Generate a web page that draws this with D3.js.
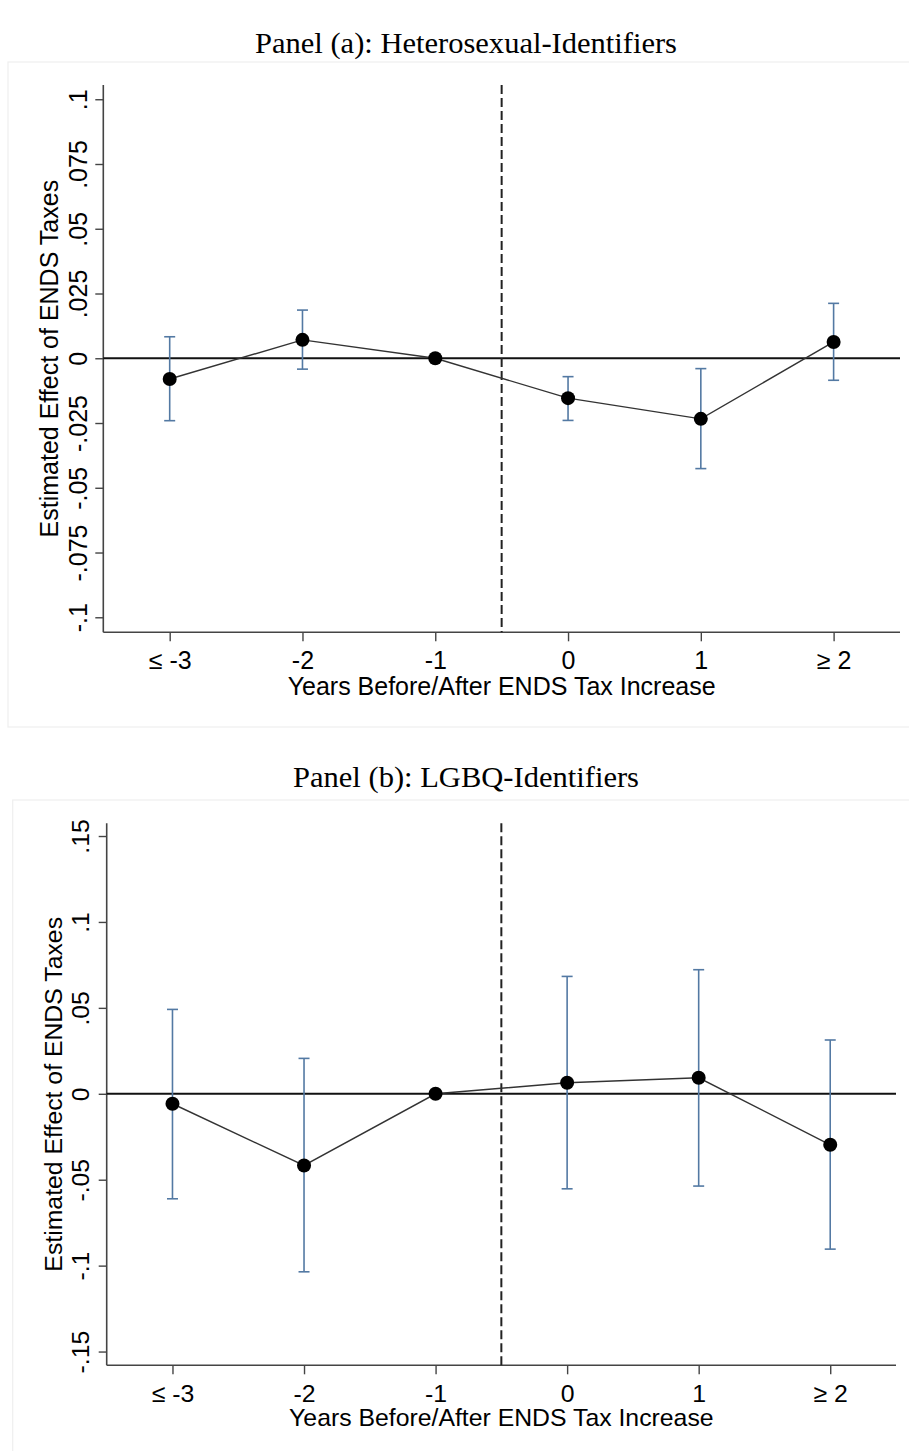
<!DOCTYPE html>
<html>
<head>
<meta charset="utf-8">
<script src="https://cdn.jsdelivr.net/npm/d3@7"></script>
<style>
  body { margin: 0; background: #fff; }
  svg { display: block; }
  .tick text { font-family: "Liberation Sans", Arial, sans-serif; fill: #000; }
</style>
</head>
<body>
<div id="wrapper"></div>
<script>
// event-study periods
var periods = ["≤ -3", "-2", "-1", "0", "1", "≥ 2"];

// Panel (a): heterosexual
var hetEst = [-0.0080, 0.0071, 0, -0.0154, -0.0234, 0.0063];
var hetLo  = [-0.0241, -0.0042, null, -0.0240, -0.0426, -0.0085];
var hetHi  = [0.0083, 0.0186, null, -0.0071, -0.0040, 0.0212];
var hetTicks = [-0.1, -0.075, -0.05, -0.025, 0, 0.025, 0.05, 0.075, 0.1];

// Panel (b): LGBQ
var lgbqEst = [-0.0058, -0.0417, 0, 0.0064, 0.0093, -0.0297];
var lgbqLo  = [-0.0611, -0.1036, null, -0.0553, -0.0537, -0.0904];
var lgbqHi  = [0.0491, 0.0206, null, 0.0683, 0.0722, 0.0313];
var lgbqTicks = [-0.15, -0.1, -0.05, 0, 0.05, 0.1, 0.15];

var W = 909, H = 1451;

var svg = d3.select("#wrapper").append("svg")
    .attr("width", W)
    .attr("height", H);

// strip the leading zero like Stata does
var fmtTick = function(d) {
    if (d === 0) return "0";
    var s = String(+d.toFixed(3));
    return s.replace("0.", ".");
};

function drawPanel(cfg) {
    var g = svg.append("g");

    // faint frame around the exported graph
    g.append("rect")
        .attr("x", cfg.frame[0]).attr("y", cfg.frame[1])
        .attr("width", cfg.frame[2]).attr("height", cfg.frame[3])
        .attr("fill", "none")
        .attr("stroke", "#efefef")
        .attr("stroke-width", 1.2);

    g.append("text")
        .attr("x", 466)
        .attr("y", cfg.titleY)
        .attr("text-anchor", "middle")
        .attr("font-family", "'Liberation Serif', 'Times New Roman', serif")
        .attr("font-size", 29)
        .attr("textLength", cfg.titleLen)
        .attr("lengthAdjust", "spacingAndGlyphs")
        .text(cfg.title);

    var x = d3.scaleLinear()
        .domain([-0.5, periods.length - 0.5])
        .range([cfg.left, cfg.right]);

    var y = d3.scaleLinear()
        .domain(cfg.yDomain)
        .range([cfg.bottom, cfg.top]);

    // y axis
    var yAxis = d3.axisLeft(y)
        .tickValues(cfg.ticks)
        .tickSize(8)
        .tickFormat(fmtTick);

    var ya = g.append("g")
        .attr("transform", "translate(" + cfg.left + ",0)")
        .call(yAxis);
    ya.select(".domain")
        .attr("d", "M0," + cfg.top + "V" + cfg.bottom)
        .attr("stroke", "#444").attr("stroke-width", 1.6);
    ya.selectAll(".tick line").attr("stroke", "#444").attr("stroke-width", 1.4);
    ya.selectAll(".tick text")
        .attr("x", null)
        .attr("dy", null)
        .attr("text-anchor", "middle")
        .attr("transform", "translate(" + cfg.yLabOff + ",0) rotate(-90)")
        .attr("font-size", cfg.fs);

    // x axis
    var xAxis = d3.axisBottom(x)
        .tickValues(d3.range(periods.length))
        .tickSize(9)
        .tickPadding(0)
        .tickFormat(function(d) { return periods[d]; });

    var xa = g.append("g")
        .attr("transform", "translate(0," + cfg.bottom + ")")
        .call(xAxis);
    xa.select(".domain")
        .attr("d", "M" + cfg.left + ",0H" + cfg.right)
        .attr("stroke", "#444").attr("stroke-width", 1.6);
    xa.selectAll(".tick line").attr("stroke", "#444").attr("stroke-width", 1.4);
    xa.selectAll(".tick text")
        .attr("y", cfg.xLabOff)
        .attr("dy", null)
        .attr("font-size", cfg.fs);

    // axis titles
    g.append("text")
        .attr("transform", "translate(" + cfg.yTitleX + "," + ((cfg.top + cfg.bottom) / 2) + ") rotate(-90)")
        .attr("text-anchor", "middle")
        .attr("font-family", "'Liberation Sans', Arial, sans-serif")
        .attr("font-size", cfg.fs)
        .text("Estimated Effect of ENDS Taxes");

    g.append("text")
        .attr("x", (cfg.left + cfg.right) / 2)
        .attr("y", cfg.xTitleY)
        .attr("text-anchor", "middle")
        .attr("font-family", "'Liberation Sans', Arial, sans-serif")
        .attr("font-size", cfg.fs)
        .text("Years Before/After ENDS Tax Increase");

    // zero reference line
    g.append("line")
        .attr("x1", cfg.left).attr("x2", cfg.right)
        .attr("y1", y(0)).attr("y2", y(0))
        .attr("stroke", "#111")
        .attr("stroke-width", 2);

    // treatment timing, halfway between -1 and 0
    var cut = periods.indexOf("-1") + 0.5;
    g.append("line")
        .attr("x1", x(cut)).attr("x2", x(cut))
        .attr("y1", cfg.top).attr("y2", cfg.bottom)
        .attr("stroke", "#222")
        .attr("stroke-width", 2)
        .attr("stroke-dasharray", "9,4");

    var rows = periods.map(function(p, i) {
        return { i: i, est: cfg.est[i], lo: cfg.lo[i], hi: cfg.hi[i] };
    });
    var ci = rows.filter(function(d) { return d.lo !== null; });

    // confidence intervals
    var cg = g.append("g").attr("stroke", "#5379a3").attr("stroke-width", 1.6).attr("fill", "none");
    cg.selectAll("line.v").data(ci).enter().append("line")
        .attr("class", "v")
        .attr("x1", function(d) { return x(d.i); })
        .attr("x2", function(d) { return x(d.i); })
        .attr("y1", function(d) { return y(d.lo); })
        .attr("y2", function(d) { return y(d.hi); });
    cg.selectAll("line.top").data(ci).enter().append("line")
        .attr("class", "top")
        .attr("x1", function(d) { return x(d.i) - 5.5; })
        .attr("x2", function(d) { return x(d.i) + 5.5; })
        .attr("y1", function(d) { return y(d.hi); })
        .attr("y2", function(d) { return y(d.hi); });
    cg.selectAll("line.bot").data(ci).enter().append("line")
        .attr("class", "bot")
        .attr("x1", function(d) { return x(d.i) - 5.5; })
        .attr("x2", function(d) { return x(d.i) + 5.5; })
        .attr("y1", function(d) { return y(d.lo); })
        .attr("y2", function(d) { return y(d.lo); });

    // connecting line + points
    var line = d3.line()
        .x(function(d) { return x(d.i); })
        .y(function(d) { return y(d.est); });

    g.append("path")
        .datum(rows)
        .attr("d", line)
        .attr("fill", "none")
        .attr("stroke", "#333")
        .attr("stroke-width", 1.4);

    g.selectAll(".dot").data(rows).enter().append("circle")
        .attr("class", "dot")
        .attr("cx", function(d) { return x(d.i); })
        .attr("cy", function(d) { return y(d.est); })
        .attr("r", 7)
        .attr("fill", "#000");
}

drawPanel({
    title: "Panel (a): Heterosexual-Identifiers",
    titleY: 53, titleLen: 422,
    frame: [8, 62, 910, 665],
    left: 103.3, right: 900, top: 85, bottom: 632.3,
    yDomain: [-0.1058, 0.1055],
    ticks: hetTicks,
    est: hetEst, lo: hetLo, hi: hetHi,
    fs: 25, yLabOff: -16, xLabOff: 36.5, yTitleX: 58, xTitleY: 695
});

drawPanel({
    title: "Panel (b): LGBQ-Identifiers",
    titleY: 787, titleLen: 346,
    frame: [12.7, 800, 910, 660],
    left: 106.7, right: 896, top: 823.3, bottom: 1365.3,
    yDomain: [-0.158, 0.1574],
    ticks: lgbqTicks,
    est: lgbqEst, lo: lgbqLo, hi: lgbqHi,
    fs: 24.8, yLabOff: -17.5, xLabOff: 36.5, yTitleX: 62, xTitleY: 1426
});
</script>
</body>
</html>
